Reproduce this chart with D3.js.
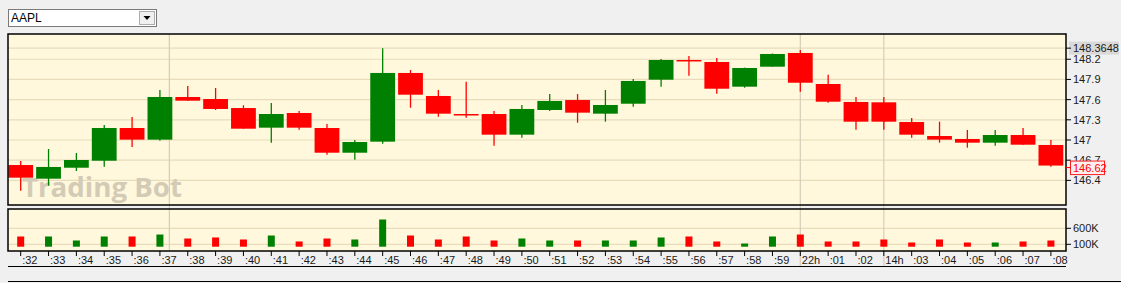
<!DOCTYPE html>
<html>
<head>
<meta charset="utf-8">
<script src="https://cdn.jsdelivr.net/npm/d3@7"></script>
<style>
  body { margin: 0; background: #f0f0f0; }
  svg { display: block; }
  text { font-family: "Liberation Sans", "DejaVu Sans", sans-serif; }
  .wm { font-family: "Open Sans", "Noto Sans", sans-serif; }
</style>
</head>
<body>
<script>

// candle data
var times = [':32',':33',':34',':35',':36',':37',':38',':39',':40',':41',':42',':43',':44',':45',':46',':47',':48',':49',':50',':51',':52',':53',':54',':55',':56',':57',':58',':59','22h',':01',':02','14h',':03',':04',':05',':06',':07',':08'];
var opens  = [146.628,146.425,146.588,146.692,147.178,147.005,147.639,147.609,147.475,147.183,147.401,147.178,146.811,146.975,147.996,147.654,147.386,147.386,147.079,147.446,147.594,147.391,147.539,147.896,148.189,148.159,147.792,148.089,148.293,147.832,147.565,147.560,147.267,147.059,147.015,146.960,147.074,146.926];
var highs  = [146.688,146.866,146.807,147.223,147.342,147.743,147.802,147.773,147.516,147.550,147.431,147.238,147.000,148.3648,148.040,147.743,147.866,147.431,147.520,147.683,147.683,147.743,147.906,148.204,148.248,148.218,148.075,148.285,148.337,147.970,147.639,147.639,147.327,147.272,147.149,147.149,147.178,147.000];
var lows   = [146.247,146.321,146.539,146.603,146.896,146.990,147.584,147.446,147.168,146.960,147.153,146.782,146.707,146.945,147.480,147.346,147.331,146.915,147.034,147.431,147.257,147.272,147.495,147.792,147.955,147.688,147.777,148.089,147.718,147.554,147.153,147.153,147.034,146.960,146.886,146.915,146.930,146.603];
var closes = [146.440,146.599,146.703,147.178,147.005,147.639,147.584,147.461,147.168,147.386,147.183,146.811,146.970,147.996,147.673,147.391,147.376,147.079,147.461,147.580,147.406,147.520,147.877,148.189,148.180,147.762,148.070,148.278,147.851,147.569,147.272,147.272,147.079,147.005,146.960,147.074,146.930,146.620];
var volumes = [344000,344000,219000,344000,344000,406000,281000,313000,250000,375000,188000,281000,250000,875000,375000,250000,344000,219000,281000,219000,219000,219000,219000,313000,344000,188000,125000,344000,406000,188000,188000,250000,156000,250000,156000,156000,188000,219000];

var priceTicks = [146.4, 146.7, 147, 147.3, 147.6, 147.9, 148.2];
var volTicks = [100000, 600000];
var volTickLabels = ['100K', '600K'];
var dividers = [5.34, 28, 31];   // vertical lines, in candle index units
var symbol = 'AAPL';
var watermark = 'Trading Bot';

var W = 1121, H = 283;
var svg = d3.select('body').append('svg')
    .attr('width', W)
    .attr('height', H);

svg.append('rect').attr('width', W).attr('height', H).attr('fill', '#f0f0f0');

var left = 8, right = 1066;
var main = {top: 34, bottom: 205};
var vol = {top: 209, bottom: 251};

var n = times.length;
var x = d3.scaleLinear().domain([0, n - 1]).range([20.7, 1050.9]);
var y = d3.scaleLinear().domain([146.034, 148.575]).range([main.bottom, main.top]);
var yv = d3.scaleLinear().domain([0, 1000000]).range([247.5, 215.5]);

var lastClose = closes[n - 1];
var maxHigh = d3.max(highs);

// panels
svg.append('rect').attr('x', left).attr('y', main.top).attr('width', right - left).attr('height', main.bottom - main.top).attr('fill', '#fff8dc');
svg.append('rect').attr('x', left).attr('y', vol.top).attr('width', right - left).attr('height', vol.bottom - vol.top).attr('fill', '#fff8dc');

// horizontal grid
svg.selectAll('.hgrid')
    .data(priceTicks.concat([maxHigh]))
    .enter().append('line')
    .attr('x1', left).attr('x2', right)
    .attr('y1', function(d){ return y(d); })
    .attr('y2', function(d){ return y(d); })
    .attr('stroke', '#e8dcbc').attr('stroke-width', 1.2);

svg.selectAll('.vgrid')
    .data(volTicks)
    .enter().append('line')
    .attr('x1', left).attr('x2', right)
    .attr('y1', function(d){ return yv(d); })
    .attr('y2', function(d){ return yv(d); })
    .attr('stroke', '#e8dcbc').attr('stroke-width', 1.2);

// vertical dividers
dividers.forEach(function(d, k){
    var bottom = (k === 0) ? vol.bottom : 266;
    svg.append('line')
        .attr('x1', x(d)).attr('x2', x(d))
        .attr('y1', main.top).attr('y2', bottom)
        .attr('stroke', '#d6cdb8').attr('stroke-width', 1.2);
});

// watermark
svg.append('text')
    .attr('class', 'wm')
    .attr('x', 22).attr('y', 197)
    .attr('font-size', 26).attr('font-weight', 'bold')
    .attr('textLength', 160).attr('lengthAdjust', 'spacingAndGlyphs')
    .attr('fill', '#d3cbb6')
    .text(watermark);

// candles
var color = function(i){ return closes[i] < opens[i] ? '#ff0000' : '#008000'; };
var idx = d3.range(n);

svg.selectAll('.wick')
    .data(idx)
    .enter().append('line')
    .attr('x1', function(i){ return x(i); })
    .attr('x2', function(i){ return x(i); })
    .attr('y1', function(i){ return y(highs[i]); })
    .attr('y2', function(i){ return y(lows[i]); })
    .attr('stroke', color).attr('stroke-width', 1.3);

svg.selectAll('.body')
    .data(idx)
    .enter().append('rect')
    .attr('x', function(i){ return x(i) - 12.4; })
    .attr('width', 24.8)
    .attr('y', function(i){ return y(Math.max(opens[i], closes[i])); })
    .attr('height', function(i){ return Math.max(1.5, Math.abs(y(opens[i]) - y(closes[i]))); })
    .attr('fill', color);

// volume bars
svg.selectAll('.vbar')
    .data(idx)
    .enter().append('rect')
    .attr('x', function(i){ return x(i) - 3.5; })
    .attr('width', 7)
    .attr('y', function(i){ return yv(volumes[i]); })
    .attr('height', function(i){ return yv(0) - yv(volumes[i]) - 0.8; })
    .attr('fill', color);

// panel borders
[main, vol].forEach(function(p){
    svg.append('rect')
        .attr('x', left).attr('y', p.top)
        .attr('width', right - left).attr('height', p.bottom - p.top)
        .attr('fill', 'none').attr('stroke', '#000').attr('stroke-width', 1.5);
});

// price axis
svg.selectAll('.ptick')
    .data(priceTicks)
    .enter().append('line')
    .attr('x1', right).attr('x2', right + 5)
    .attr('y1', function(d){ return y(d); })
    .attr('y2', function(d){ return y(d); })
    .attr('stroke', '#000');

svg.selectAll('.plabel')
    .data(priceTicks)
    .enter().append('text')
    .attr('x', right + 7)
    .attr('y', function(d){ return y(d) + 4; })
    .attr('font-size', 11).attr('fill', '#1a1a1a')
    .text(function(d){ return d3.format('~g')(d); });

// high marker
svg.append('rect').attr('x', right + 3).attr('y', y(maxHigh) - 6.5).attr('width', 50).attr('height', 13).attr('fill', '#d9d9d9');
svg.append('line').attr('x1', right).attr('x2', right + 5).attr('y1', y(maxHigh)).attr('y2', y(maxHigh)).attr('stroke', '#000');
svg.append('text').attr('x', right + 7).attr('y', y(maxHigh) + 4).attr('font-size', 11).attr('fill', '#1a1a1a').text(maxHigh);

// last close marker
svg.append('rect').attr('x', right + 4.5).attr('y', y(lastClose) - 4.5).attr('width', 34).attr('height', 13.5)
    .attr('fill', '#fdeef0').attr('stroke', '#ff2020').attr('stroke-width', 1);
svg.append('line').attr('x1', right).attr('x2', right + 5).attr('y1', y(lastClose) + 2).attr('y2', y(lastClose) + 2).attr('stroke', '#ff0000');
svg.append('text').attr('x', right + 7).attr('y', y(lastClose) + 6).attr('font-size', 11).attr('fill', '#ff0000').text(lastClose);

// volume axis
svg.selectAll('.vtick')
    .data(volTicks)
    .enter().append('line')
    .attr('x1', right).attr('x2', right + 5)
    .attr('y1', function(d){ return yv(d); })
    .attr('y2', function(d){ return yv(d); })
    .attr('stroke', '#000');

svg.selectAll('.vlabel')
    .data(volTicks)
    .enter().append('text')
    .attr('x', right + 7)
    .attr('y', function(d){ return yv(d) + 4; })
    .attr('font-size', 11).attr('fill', '#1a1a1a')
    .text(function(d, k){ return volTickLabels[k]; });

// time axis
svg.selectAll('.xtick')
    .data(idx)
    .enter().append('line')
    .attr('x1', function(i){ return x(i); })
    .attr('x2', function(i){ return x(i); })
    .attr('y1', vol.bottom).attr('y2', vol.bottom + 5)
    .attr('stroke', '#000');

svg.selectAll('.xlabel')
    .data(idx)
    .enter().append('text')
    .attr('x', function(i){ return x(i) + 1.5; })
    .attr('y', 263.5)
    .attr('font-size', 11).attr('fill', '#1a1a1a')
    .text(function(i){ return times[i]; });

svg.append('line').attr('x1', left).attr('x2', right).attr('y1', 266.5).attr('y2', 266.5).attr('stroke', '#000').attr('stroke-width', 1.2);
svg.append('line').attr('x1', left).attr('x2', W).attr('y1', 281.5).attr('y2', 281.5).attr('stroke', '#000').attr('stroke-width', 1.2);

// symbol dropdown
svg.append('rect').attr('x', 8.5).attr('y', 9.5).attr('width', 148).attr('height', 17)
    .attr('fill', '#fff').attr('stroke', '#7a7a7a');
svg.append('rect').attr('x', 139.5).attr('y', 11.5).attr('width', 15).attr('height', 13)
    .attr('fill', '#f0f0f0').attr('stroke', '#adadad');
svg.append('path').attr('d', 'M143.5,16 L150.5,16 L147,20 Z').attr('fill', '#000');
svg.append('text').attr('x', 11).attr('y', 22).attr('font-size', 12).attr('fill', '#000').text(symbol);

</script>
</body>
</html>
